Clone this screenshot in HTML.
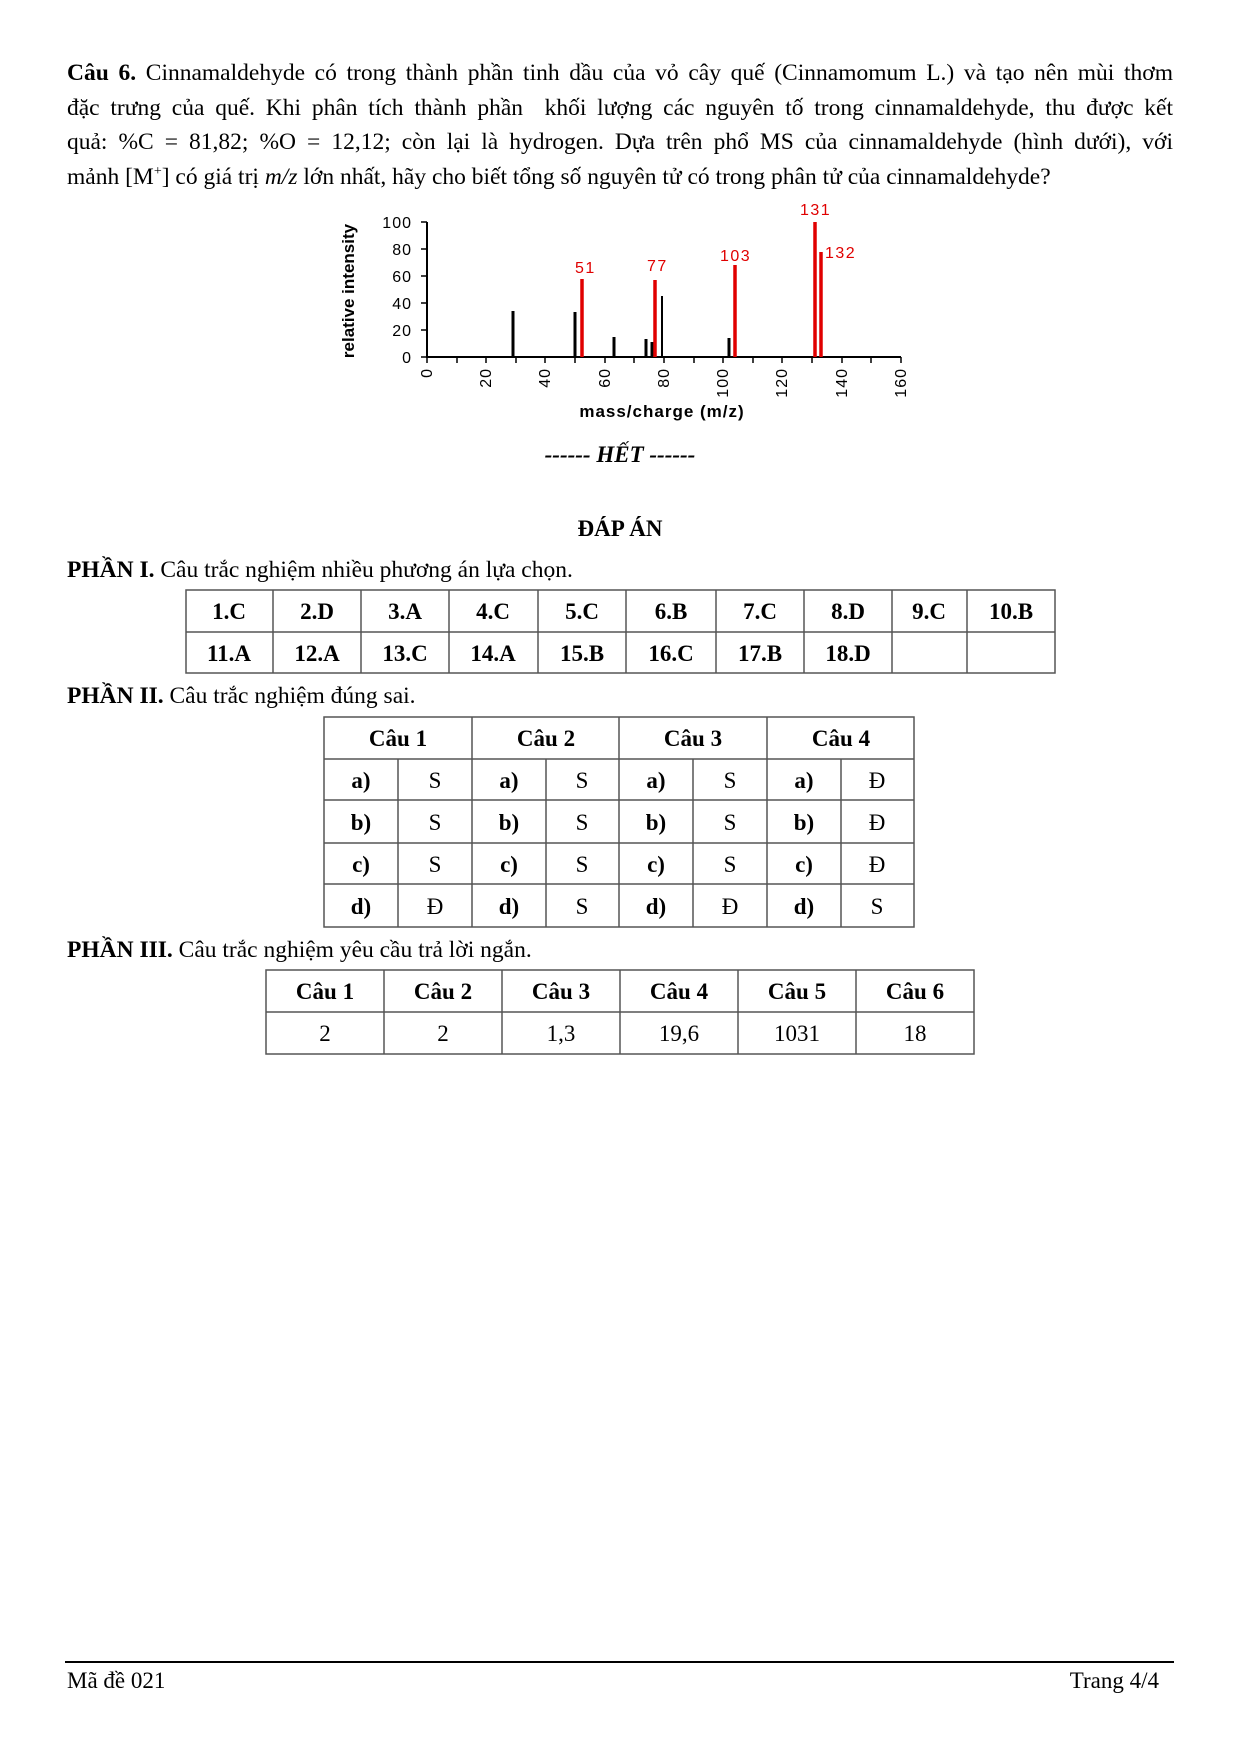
<!DOCTYPE html>
<html><head><meta charset="utf-8"><style>
body{margin:0;background:#fff;width:1241px;height:1755px;position:relative;overflow:hidden;font-family:"Liberation Serif",serif;color:#000}
.p{position:absolute;left:67px;width:1106px;font-size:23.5px;line-height:34.7px;top:56px}
.p div{text-align:justify;text-align-last:justify;white-space:nowrap}
.p div.last{text-align-last:left}
svg{position:absolute;left:0;top:0}
</style></head><body>
<div class="p">
<div><b>Câu 6.</b> Cinnamaldehyde có trong thành phần tinh dầu của vỏ cây quế (Cinnamomum L.) và tạo nên mùi thơm</div>
<div>đặc trưng của quế. Khi phân tích thành phần&nbsp; khối lượng các nguyên tố trong cinnamaldehyde, thu được kết</div>
<div>quả: %C = 81,82; %O = 12,12; còn lại là hydrogen. Dựa trên phổ MS của cinnamaldehyde (hình dưới), với</div>
<div class="last">mảnh [M<sup style="font-size:14px;line-height:0">+</sup>] có giá trị <i>m/z</i> lớn nhất, hãy cho biết tổng số nguyên tử có trong phân tử của cinnamaldehyde?</div>
</div>

<svg width="1241" height="1755" xmlns="http://www.w3.org/2000/svg" font-family="Liberation Sans, sans-serif">
<line x1="427" y1="222" x2="427" y2="358" stroke="#000" stroke-width="2"/>
<line x1="426" y1="357" x2="901" y2="357" stroke="#000" stroke-width="2"/>
<g stroke="#000" stroke-width="1.5">
<line x1="421" y1="222" x2="427" y2="222"/><line x1="421" y1="249" x2="427" y2="249"/><line x1="421" y1="276" x2="427" y2="276"/><line x1="421" y1="303" x2="427" y2="303"/><line x1="421" y1="330" x2="427" y2="330"/><line x1="421" y1="357" x2="427" y2="357"/>
<line x1="427" y1="357" x2="427" y2="363"/><line x1="457" y1="357" x2="457" y2="363"/><line x1="486" y1="357" x2="486" y2="363"/><line x1="516" y1="357" x2="516" y2="363"/><line x1="545" y1="357" x2="545" y2="363"/><line x1="575" y1="357" x2="575" y2="363"/><line x1="605" y1="357" x2="605" y2="363"/><line x1="634" y1="357" x2="634" y2="363"/><line x1="664" y1="357" x2="664" y2="363"/><line x1="694" y1="357" x2="694" y2="363"/><line x1="723" y1="357" x2="723" y2="363"/><line x1="753" y1="357" x2="753" y2="363"/><line x1="782" y1="357" x2="782" y2="363"/><line x1="812" y1="357" x2="812" y2="363"/><line x1="842" y1="357" x2="842" y2="363"/><line x1="871" y1="357" x2="871" y2="363"/><line x1="901" y1="357" x2="901" y2="363"/>
</g>
<g font-size="16" text-anchor="end" fill="#000" letter-spacing="1">
<text x="412" y="228">100</text><text x="412" y="255">80</text><text x="412" y="282">60</text><text x="412" y="309">40</text><text x="412" y="336">20</text><text x="412" y="363">0</text>
</g>
<g font-size="16" text-anchor="end" fill="#000" letter-spacing="1">
<text transform="translate(432,368) rotate(-90)">0</text>
<text transform="translate(491,368) rotate(-90)">20</text>
<text transform="translate(550,368) rotate(-90)">40</text>
<text transform="translate(610,368) rotate(-90)">60</text>
<text transform="translate(669,368) rotate(-90)">80</text>
<text transform="translate(728,368) rotate(-90)">100</text>
<text transform="translate(787,368) rotate(-90)">120</text>
<text transform="translate(847,368) rotate(-90)">140</text>
<text transform="translate(906,368) rotate(-90)">160</text>
</g>
<text x="662" y="417" font-size="17" font-weight="bold" text-anchor="middle" letter-spacing="1">mass/charge (m/z)</text>
<text transform="translate(354,291) rotate(-90)" font-size="17" font-weight="bold" text-anchor="middle">relative intensity</text>
<g stroke="#000" stroke-width="3">
<line x1="513" y1="357" x2="513" y2="311"/>
<line x1="575" y1="357" x2="575" y2="312"/>
<line x1="614" y1="357" x2="614" y2="337"/>
<line x1="646" y1="357" x2="646" y2="339"/>
<line x1="652" y1="357" x2="652" y2="342"/>
<line x1="662" y1="357" x2="662" y2="296" stroke-width="2"/>
<line x1="729" y1="357" x2="729" y2="338"/>
</g>
<g stroke="#e00000" stroke-width="3.5">
<line x1="582" y1="357" x2="582" y2="279"/>
<line x1="655" y1="357" x2="655" y2="280"/>
<line x1="735" y1="357" x2="735" y2="265"/>
<line x1="815" y1="357" x2="815" y2="222"/>
<line x1="821" y1="357" x2="821" y2="252"/>
</g>
<g fill="#e00000" font-size="16" letter-spacing="1.5">
<text x="575" y="273">51</text><text x="647" y="271">77</text><text x="720" y="261">103</text><text x="800" y="215">131</text><text x="825" y="258">132</text>
</g>
<g font-family="Liberation Serif, serif">
<text x="620" y="462" font-size="23" font-weight="bold" font-style="italic" text-anchor="middle">------ HẾT ------</text>
<text x="620" y="536" font-size="23" font-weight="bold" text-anchor="middle">ĐÁP ÁN</text>
<text x="67" y="577" font-size="23.5"><tspan font-weight="bold">PHẦN I.</tspan> Câu trắc nghiệm nhiều phương án lựa chọn.</text>
<text x="67" y="703" font-size="23.5"><tspan font-weight="bold">PHẦN II.</tspan> Câu trắc nghiệm đúng sai.</text>
<text x="67" y="957" font-size="23.5"><tspan font-weight="bold">PHẦN III.</tspan> Câu trắc nghiệm yêu cầu trả lời ngắn.</text>

<g stroke="#555" stroke-width="1.5" fill="none">
<rect x="186" y="590" width="869" height="83"/>
<line x1="186" y1="632" x2="1055" y2="632"/>
<line x1="273" y1="590" x2="273" y2="673"/><line x1="361" y1="590" x2="361" y2="673"/><line x1="449" y1="590" x2="449" y2="673"/><line x1="538" y1="590" x2="538" y2="673"/><line x1="626" y1="590" x2="626" y2="673"/><line x1="716" y1="590" x2="716" y2="673"/><line x1="804" y1="590" x2="804" y2="673"/><line x1="892" y1="590" x2="892" y2="673"/><line x1="967" y1="590" x2="967" y2="673"/>
</g>
<g font-size="23" font-weight="bold" text-anchor="middle">
<text x="229" y="619">1.C</text><text x="317" y="619">2.D</text><text x="405" y="619">3.A</text><text x="493" y="619">4.C</text><text x="582" y="619">5.C</text><text x="671" y="619">6.B</text><text x="760" y="619">7.C</text><text x="848" y="619">8.D</text><text x="929" y="619">9.C</text><text x="1011" y="619">10.B</text>
<text x="229" y="661">11.A</text><text x="317" y="661">12.A</text><text x="405" y="661">13.C</text><text x="493" y="661">14.A</text><text x="582" y="661">15.B</text><text x="671" y="661">16.C</text><text x="760" y="661">17.B</text><text x="848" y="661">18.D</text>
</g>

<g stroke="#555" stroke-width="1.5" fill="none">
<rect x="324" y="717" width="590" height="210"/>
<line x1="324" y1="759" x2="914" y2="759"/><line x1="324" y1="800" x2="914" y2="800"/><line x1="324" y1="843" x2="914" y2="843"/><line x1="324" y1="884" x2="914" y2="884"/>
<line x1="472" y1="717" x2="472" y2="927"/><line x1="619" y1="717" x2="619" y2="927"/><line x1="767" y1="717" x2="767" y2="927"/>
<line x1="398" y1="759" x2="398" y2="927"/><line x1="546" y1="759" x2="546" y2="927"/><line x1="693" y1="759" x2="693" y2="927"/><line x1="841" y1="759" x2="841" y2="927"/>
</g>
<g font-size="23" text-anchor="middle">
<g font-weight="bold"><text x="398" y="746">Câu 1</text><text x="546" y="746">Câu 2</text><text x="693" y="746">Câu 3</text><text x="841" y="746">Câu 4</text></g>
<g font-weight="bold">
<text x="361" y="788">a)</text><text x="509" y="788">a)</text><text x="656" y="788">a)</text><text x="804" y="788">a)</text>
<text x="361" y="830">b)</text><text x="509" y="830">b)</text><text x="656" y="830">b)</text><text x="804" y="830">b)</text>
<text x="361" y="872">c)</text><text x="509" y="872">c)</text><text x="656" y="872">c)</text><text x="804" y="872">c)</text>
<text x="361" y="914">d)</text><text x="509" y="914">d)</text><text x="656" y="914">d)</text><text x="804" y="914">d)</text>
</g>
<text x="435" y="788">S</text><text x="582" y="788">S</text><text x="730" y="788">S</text><text x="877" y="788">Đ</text>
<text x="435" y="830">S</text><text x="582" y="830">S</text><text x="730" y="830">S</text><text x="877" y="830">Đ</text>
<text x="435" y="872">S</text><text x="582" y="872">S</text><text x="730" y="872">S</text><text x="877" y="872">Đ</text>
<text x="435" y="914">Đ</text><text x="582" y="914">S</text><text x="730" y="914">Đ</text><text x="877" y="914">S</text>
</g>

<g stroke="#555" stroke-width="1.5" fill="none">
<rect x="266" y="970" width="708" height="84"/>
<line x1="266" y1="1012" x2="974" y2="1012"/>
<line x1="384" y1="970" x2="384" y2="1054"/><line x1="502" y1="970" x2="502" y2="1054"/><line x1="620" y1="970" x2="620" y2="1054"/><line x1="738" y1="970" x2="738" y2="1054"/><line x1="856" y1="970" x2="856" y2="1054"/>
</g>
<g font-size="23" text-anchor="middle">
<g font-weight="bold"><text x="325" y="999">Câu 1</text><text x="443" y="999">Câu 2</text><text x="561" y="999">Câu 3</text><text x="679" y="999">Câu 4</text><text x="797" y="999">Câu 5</text><text x="915" y="999">Câu 6</text></g>
<text x="325" y="1041">2</text><text x="443" y="1041">2</text><text x="561" y="1041">1,3</text><text x="679" y="1041">19,6</text><text x="797" y="1041">1031</text><text x="915" y="1041">18</text>
</g>

<line x1="65" y1="1662" x2="1174" y2="1662" stroke="#000" stroke-width="2"/>
<text x="67" y="1688" font-size="23">Mã đề 021</text>
<text x="1159" y="1688" font-size="23" text-anchor="end">Trang 4/4</text>
</g>
</svg>
</body></html>
